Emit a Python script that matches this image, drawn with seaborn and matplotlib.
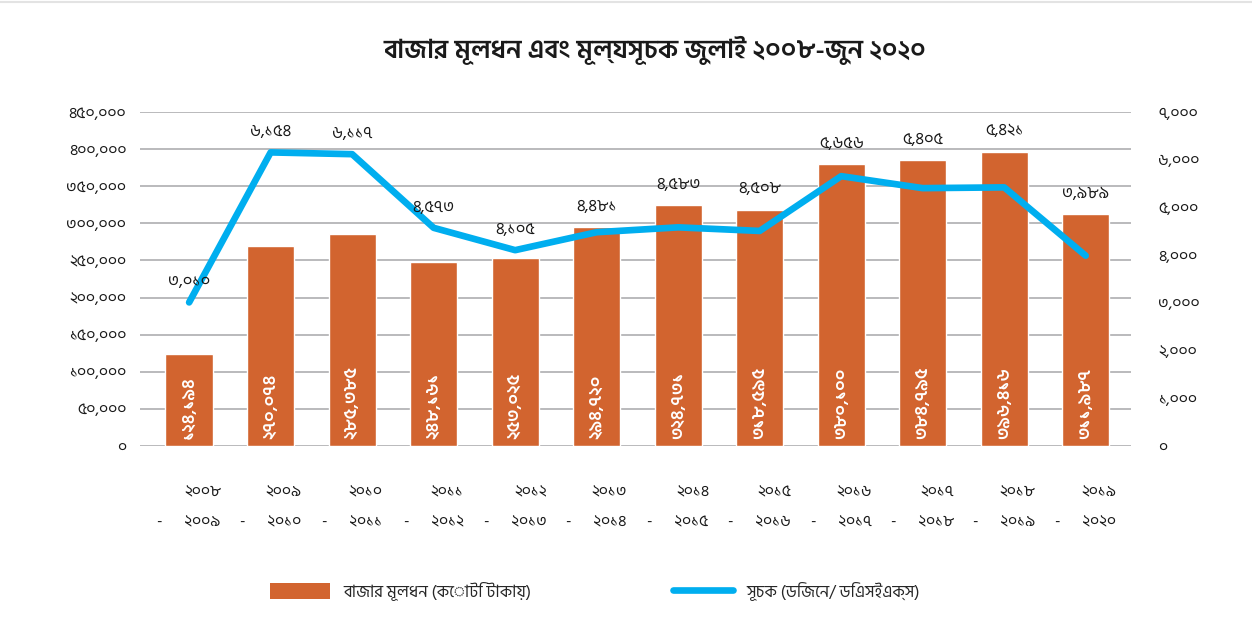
import numpy as np
import pandas as pd
import matplotlib
matplotlib.use("Agg")
import matplotlib.pyplot as plt
from matplotlib import font_manager
from matplotlib.lines import Line2D
from matplotlib.patches import Patch
import seaborn as sns

# Data (market capitalisation in crore taka, DSE index)
start_years = ["২০০৮", "২০০৯", "২০১০", "২০১১", "২০১২", "২০১৩",
               "২০১৪", "২০১৫", "২০১৬", "২০১৭", "২০১৮", "২০১৯"]
end_years = ["২০০৯", "২০১০", "২০১১", "২০১২", "২০১৩", "২০১৪",
             "২০১৫", "২০১৬", "২০১৭", "২০১৮", "২০১৯", "২০২০"]
market_cap = [124194, 270074, 285385, 248161, 253025, 294720,
              324731, 318595, 380100, 384795, 396416, 311987]
index_value = [3010, 6154, 6117, 4573, 4105, 4481,
               4583, 4508, 5656, 5405, 5421, 3989]

title = "বাজার মূলধন এবং মূল্যসূচক জুলাই ২০০৮-জুন ২০২০"
bar_label = "বাজার মূলধন (কোটি টাকায়)"
line_label = "সূচক (ডিজেন/ ডিএসইএক্স)"

BAR_COLOR = "#D2642F"
LINE_COLOR = "#00AEEF"
GRID_COLOR = "#A7A7AA"
TEXT_COLOR = "#1a1a1a"

BN_DIGITS = str.maketrans("0123456789", "০১২৩৪৫৬৭৮৯")


def bn(n):
    return f"{n:,}".translate(BN_DIGITS)


sns.set_theme(style="white")
installed = {f.name for f in font_manager.fontManager.ttflist}
families = [f for f in ["Hind Siliguri", "Noto Sans Bengali", "DejaVu Sans"]
            if f in installed]
plt.rcParams["font.family"] = families

df = pd.DataFrame({
    "pos": np.arange(len(start_years)),
    "period": [f"{a}\n-      {b}" for a, b in zip(start_years, end_years)],
    "cap": market_cap,
    "index": index_value,
})

fig = plt.figure(figsize=(12.52, 6.33), dpi=100)
ax = fig.add_axes([0.112, 0.2954, 0.791, 0.5276])

sns.barplot(data=df, x="period", y="cap", color=BAR_COLOR, width=0.58,
            saturation=1, ax=ax)
ax.set_ylim(0, 450000)
ax.set_yticks(np.arange(0, 450001, 50000))
ax.set_yticklabels([bn(v) for v in range(0, 450001, 50000)])
ax.yaxis.grid(True, color=GRID_COLOR, linewidth=1.1)
ax.set_axisbelow(True)
for s in ax.spines.values():
    s.set_visible(False)
ax.set_xlabel("")
ax.set_ylabel("")
ax.tick_params(axis="y", length=0, pad=10, labelsize=11.5, colors=TEXT_COLOR)
ax.tick_params(axis="x", length=0, pad=28, labelsize=11.5, colors=TEXT_COLOR)
for lbl in ax.get_xticklabels():
    lbl.set_multialignment("right")
    lbl.set_linespacing(2.45)

# values inside bars
for p, v in zip(df["pos"], df["cap"]):
    ax.annotate(bn(v), (p, 0), xytext=(0, 5), textcoords="offset points",
                rotation=90, ha="center", va="bottom", color="white",
                fontsize=13, fontweight="semibold")

ax2 = ax.twinx()
sns.lineplot(data=df, x="pos", y="index", color=LINE_COLOR, linewidth=4.8,
             ax=ax2, solid_capstyle="round")
ax2.set_ylim(0, 7000)
ax2.set_yticks(np.arange(0, 7001, 1000))
ax2.set_yticklabels([bn(v) for v in range(0, 7001, 1000)])
ax2.set_ylabel("")
ax2.tick_params(axis="y", length=0, pad=20, labelsize=11.5, colors=TEXT_COLOR)
for s in ax2.spines.values():
    s.set_visible(False)
ax2.grid(False)
ax.set_xlim(-0.6, len(start_years) - 0.45)

# index labels above line point or bar top, whichever is higher
scale = 7000 / 450000
for p, v, c in zip(df["pos"], df["index"], df["cap"]):
    anchor = max(v, c * scale)
    ax2.annotate(bn(v), (p, anchor), xytext=(0, 15), textcoords="offset points",
                 ha="center", va="center", fontsize=12, color=TEXT_COLOR)

fig.text(0.523, 0.921, title, ha="center", va="center", fontsize=19,
         fontweight="semibold", color=TEXT_COLOR)

handles = [Patch(facecolor=BAR_COLOR, edgecolor="none"),
           Line2D([0], [0], color=LINE_COLOR, linewidth=4.8)]
fig.legend(handles, [bar_label, line_label], loc="center",
           bbox_to_anchor=(0.475, 0.066), ncol=2, frameon=False,
           handlelength=3.6, handleheight=1.1, columnspacing=8.5,
           fontsize=12)

fig.add_artist(Line2D([0, 1], [0.997, 0.997], color="#E3E3E3", linewidth=1.5))

fig.savefig("out.png", dpi=100)
